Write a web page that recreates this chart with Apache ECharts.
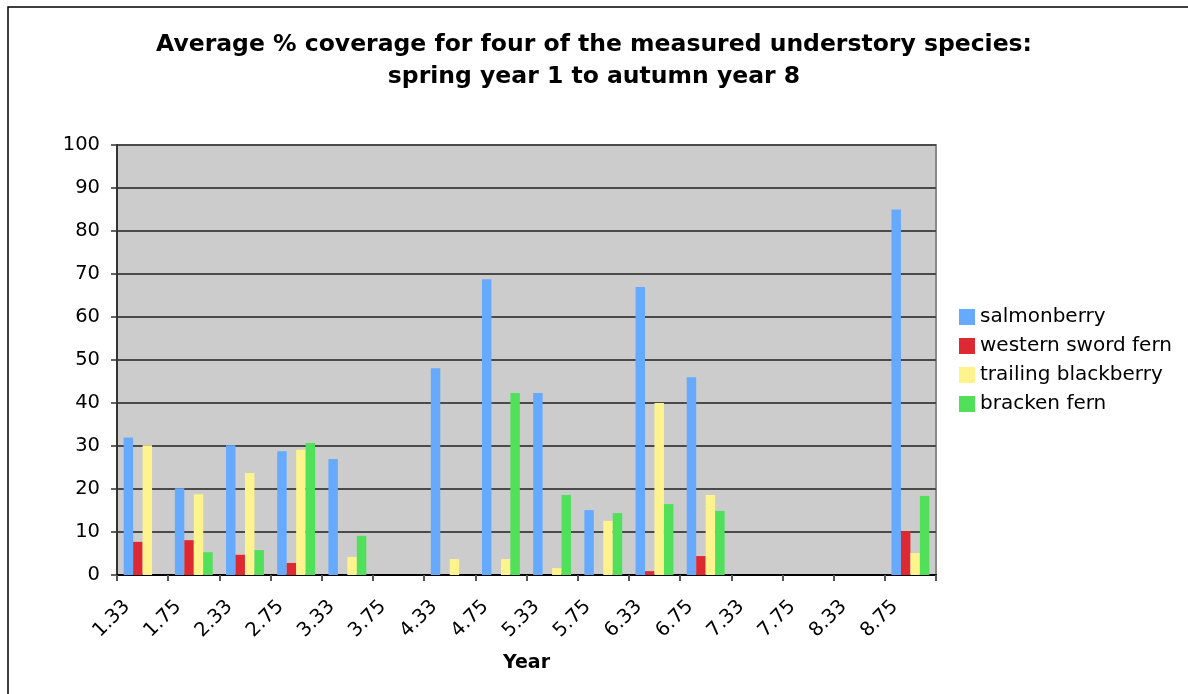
<!DOCTYPE html>
<html>
<head>
<meta charset="utf-8">
<script src="https://cdn.jsdelivr.net/npm/echarts@6/dist/echarts.min.js"></script>
<style>
  html, body { margin: 0; padding: 0; background: #ffffff; }
  #chart { width: 1188px; height: 694px; }
</style>
</head>
<body>
<div id="chart"></div>
<script>
// Survey years (spring / autumn sampling points)
const years = ['1.33', '1.75', '2.33', '2.75', '3.33', '3.75', '4.33', '4.75',
               '5.33', '5.75', '6.33', '6.75', '7.33', '7.75', '8.33', '8.75'];

// Average % coverage per species
const salmonberry        = [32, 20.2, 30.2, 28.8, 27, 0, 48.1, 68.8, 42.3, 15.1, 67, 46, 0, 0, 0, 85];
const westernSwordFern   = [7.7, 8.1, 4.7, 2.8, 0, 0, 0, 0, 0, 0, 0.9, 4.4, 0, 0, 0, 10.2];
const trailingBlackberry = [30.2, 18.8, 23.7, 29.1, 4.2, 0, 3.7, 3.7, 1.6, 12.6, 40, 18.6, 0, 0, 0, 5.1];
const brackenFern        = [0, 5.3, 5.8, 30.7, 9.1, 0, 0, 42.3, 18.6, 14.4, 16.5, 14.9, 0, 0, 0, 18.4];

const speciesNames = ['salmonberry', 'western sword fern', 'trailing blackberry', 'bracken fern'];
const speciesColors = ['#66aaff', '#dd2a32', '#fff38d', '#50e05a'];
const speciesData = [salmonberry, westernSwordFern, trailingBlackberry, brackenFern];

const FONT = '"DejaVu Sans", Verdana, sans-serif';

const chart = echarts.init(document.getElementById('chart'), null, { renderer: 'canvas' });

chart.setOption({
  backgroundColor: '#ffffff',
  animation: false,
  title: {
    text: 'Average % coverage for four of the measured understory species:\nspring year 1 to autumn year 8',
    left: 'center',
    top: 24,
    textStyle: {
      fontFamily: FONT,
      fontSize: 23.5,
      fontWeight: 'bold',
      color: '#000000',
      lineHeight: 32
    }
  },
  graphic: [{
    type: 'rect',
    shape: { x: 8, y: 7, width: 1300, height: 800 },
    style: { fill: 'none', stroke: '#000000', lineWidth: 1.5 },
    silent: true,
    z: 100
  }],
  legend: {
    orient: 'vertical',
    left: 954,
    top: 302,
    itemWidth: 16,
    itemHeight: 16,
    itemGap: 9,
    icon: 'rect',
    textStyle: { fontFamily: FONT, fontSize: 20, color: '#000000' },
    data: speciesNames
  },
  grid: {
    left: 117,
    top: 145,
    width: 819,
    height: 430,
    show: true,
    backgroundColor: '#cccccc',
    borderColor: '#8a8a8a',
    borderWidth: 2,
    containLabel: false
  },
  xAxis: {
    type: 'category',
    data: years,
    boundaryGap: true,
    name: 'Year',
    nameLocation: 'middle',
    nameGap: 79,
    nameTextStyle: { fontFamily: FONT, fontSize: 19, fontWeight: 'bold', color: '#000000' },
    axisLine: { lineStyle: { color: '#000000', width: 2 } },
    axisTick: { show: true, alignWithLabel: false, length: 6, lineStyle: { color: '#555555', width: 2 } },
    axisLabel: {
      rotate: 45,
      margin: 13,
      padding: [0, 22, 0, 0],
      fontFamily: FONT,
      fontSize: 19.5,
      color: '#000000',
      interval: 0
    },
    splitLine: { show: false }
  },
  yAxis: {
    type: 'value',
    min: 0,
    max: 100,
    interval: 10,
    axisLine: { show: true, lineStyle: { color: '#333333', width: 2 } },
    axisTick: { show: true, length: 6, lineStyle: { color: '#333333', width: 1.5 } },
    axisLabel: { fontFamily: FONT, fontSize: 19.5, color: '#000000', margin: 17 },
    splitLine: { show: true, lineStyle: { color: '#4a4a4a', width: 2 } }
  },
  series: speciesNames.map((name, i) => ({
    name: name,
    type: 'bar',
    data: speciesData[i],
    barGap: 0,
    barCategoryGap: '26%',
    itemStyle: { color: speciesColors[i] }
  }))
});
</script>
</body>
</html>
